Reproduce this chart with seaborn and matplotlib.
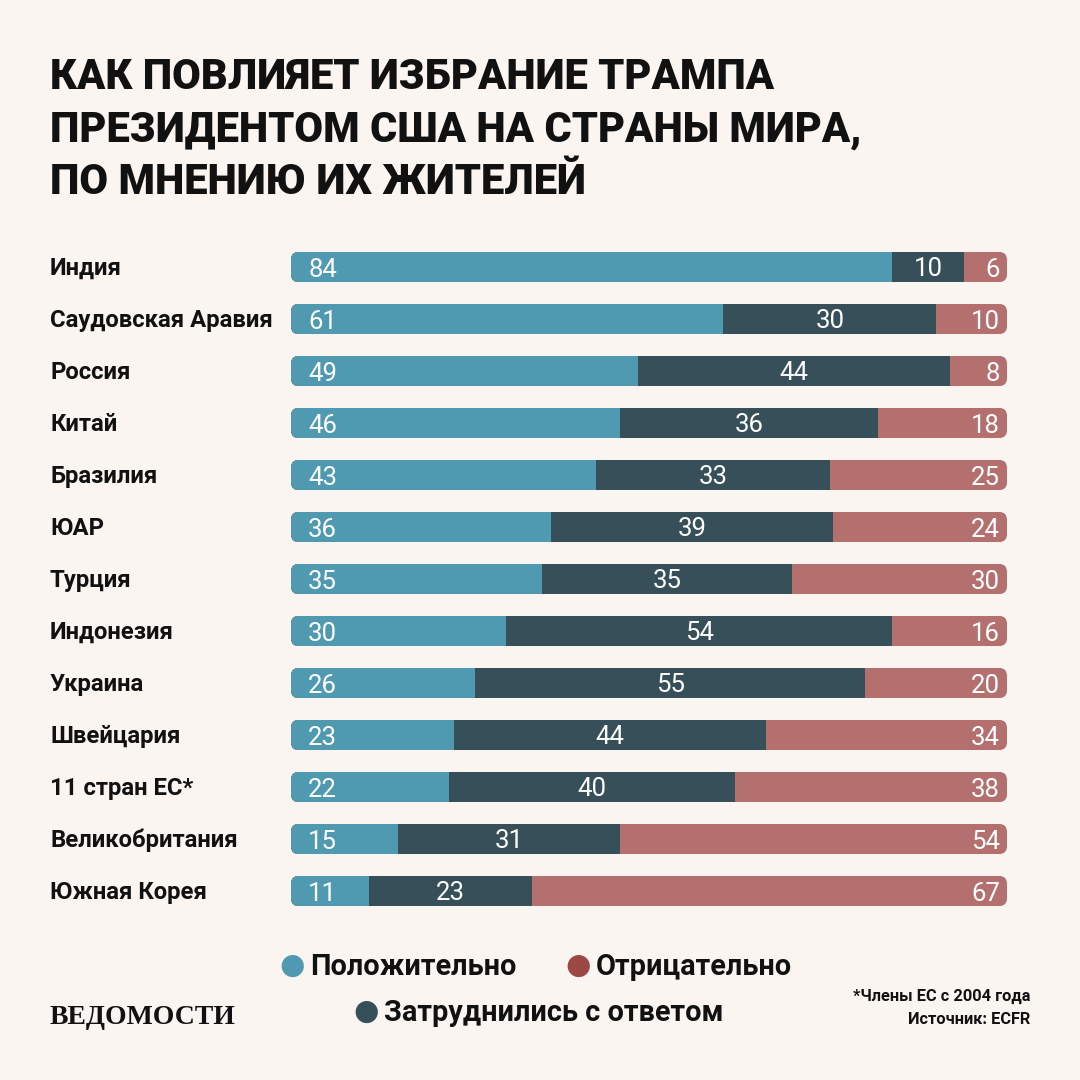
import numpy as np
import pandas as pd

import matplotlib
matplotlib.use('Agg')
import matplotlib.pyplot as plt
import matplotlib.transforms as mtransforms
from matplotlib.patches import FancyBboxPatch
import seaborn as sns

# Data
countries = ["Индия", "Саудовская Аравия", "Россия", "Китай", "Бразилия", "ЮАР",
             "Турция", "Индонезия", "Украина", "Швейцария", "11 стран ЕС*",
             "Великобритания", "Южная Корея"]
positive = [84, 61, 49, 46, 43, 36, 35, 30, 26, 23, 22, 15, 11]
unsure = [10, 30, 44, 36, 33, 39, 35, 54, 55, 44, 40, 31, 23]
negative = [6, 10, 8, 18, 25, 24, 30, 16, 20, 34, 38, 54, 67]

legend_labels = ["Положительно", "Отрицательно", "Затруднились с ответом"]
title = "КАК ПОВЛИЯЕТ ИЗБРАНИЕ ТРАМПА\nПРЕЗИДЕНТОМ США НА СТРАНЫ МИРА,\nПО МНЕНИЮ ИХ ЖИТЕЛЕЙ"

BG = "#FBF5F1"
C_POS = "#4F9AB0"
C_UNS = "#374F59"
C_NEG = "#B4706F"
C_NEG_LEG = "#9C4847"

sns.set_style("white")
plt.rcParams['font.family'] = ['Roboto', 'DejaVu Sans']

df = pd.DataFrame({"country": countries, "pos": positive, "uns": unsure, "neg": negative})
total = df["pos"] + df["uns"] + df["neg"]
df["w_pos"] = df["pos"] / total * 100
df["w_uns"] = df["uns"] / total * 100
df["w_neg"] = df["neg"] / total * 100
df["c1"] = df["w_pos"]
df["c2"] = df["w_pos"] + df["w_uns"]
df["c3"] = df["c2"] + df["w_neg"]

fig = plt.figure(figsize=(10.8, 10.8), dpi=100, facecolor=BG)
ax = fig.add_axes([291 / 1080, 1 - 917 / 1080, 716 / 1080, 676 / 1080])
ax.set_facecolor(BG)

bar_h = 0.58
# draw cumulative bars back to front so they stack
sns.barplot(data=df, y="country", x="c3", color=C_NEG, orient="h", width=bar_h,
            linewidth=0, saturation=1, ax=ax)
sns.barplot(data=df, y="country", x="c2", color=C_UNS, orient="h", width=bar_h,
            linewidth=0, saturation=1, ax=ax)
sns.barplot(data=df, y="country", x="c1", color=C_POS, orient="h", width=bar_h,
            linewidth=0, saturation=1, ax=ax)

ax.set_xlim(0, 100)
ax.set_ylim(len(countries) - 0.5, -0.5)

# round the ends of every full bar
n = len(countries)
clips = []
for i in range(n):
    clip = FancyBboxPatch((0, i - bar_h / 2), 100, bar_h,
                          boxstyle="round,pad=0,rounding_size=1.1",
                          mutation_aspect=0.14, transform=ax.transData)
    clips.append(clip)
for k, p in enumerate(ax.patches):
    p.set_clip_path(clips[k % n])

num_font = dict(color="white", fontsize=18.5, fontweight="normal", va="center")
for i, row in df.iterrows():
    ax.text(2.4, i + 0.05, str(row["pos"]), ha="left", **num_font)
    ax.text(row["c1"] + row["w_uns"] / 2, i + 0.03, str(row["uns"]), ha="center", **num_font)
    ax.text(99.0, i + 0.05, str(row["neg"]), ha="right", **num_font)

ax.set_xlabel("")
ax.set_ylabel("")
ax.set_xticks([])
ax.set_yticks([])
for s in ax.spines.values():
    s.set_visible(False)

# country names
trans = mtransforms.blended_transform_factory(fig.transFigure, ax.transData)
for i, c in enumerate(countries):
    ax.text(50 / 1080, i + 0.02, c, transform=trans, ha="left", va="center",
            fontsize=17.2, fontweight="bold", color="#111111")

# title
fig.text(50 / 1080, 1 - 57 / 1080, title, ha="left", va="top", fontsize=30,
         fontweight="heavy", color="#111111", linespacing=1.36)

# legend
leg_items = [(292, 966, C_POS, legend_labels[0]),
             (578, 966, C_NEG_LEG, legend_labels[1]),
             (366, 1012, C_UNS, legend_labels[2])]
for x, y, col, lab in leg_items:
    fig.text(x / 1080, 1 - y / 1080, "●", ha="center", va="center", fontsize=21,
             color=col, family="DejaVu Sans")
    fig.text((x + 18) / 1080, 1 - (y + 1) / 1080, lab, ha="left", va="center",
             fontsize=20.8, fontweight="bold", color="#111111")

# logo and notes
fig.text(50 / 1080, 1 - 1017 / 1080, "ВЕДОМОСТИ", ha="left", va="center",
         fontsize=20, fontweight="bold", family="Liberation Serif", color="#111111")
fig.text(1030 / 1080, 1 - 996 / 1080, "*Члены ЕС с 2004 года", ha="right", va="center",
         fontsize=11.8, fontweight="bold", color="#111111")
fig.text(1030 / 1080, 1 - 1020 / 1080, "Источник: ECFR", ha="right", va="center",
         fontsize=11.8, fontweight="bold", color="#111111")

plt.savefig("out.png", dpi=100, facecolor=BG)
plt.close()
